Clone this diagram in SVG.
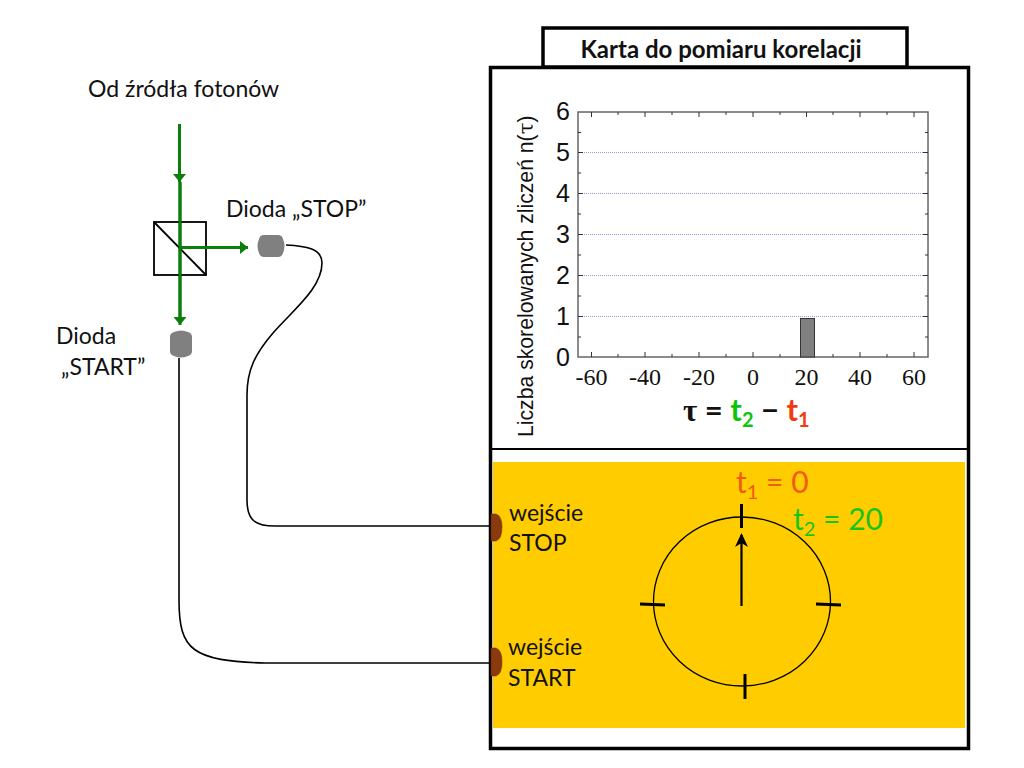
<svg xmlns="http://www.w3.org/2000/svg" width="1024" height="768" viewBox="0 0 1024 768">
<style>
.c{font-family:Lato,"Noto Sans",sans-serif;font-size:23px;fill:#111}
.h{font-family:"Liberation Sans",Arial,sans-serif;fill:#111}
.s{font-family:"Liberation Serif",serif;font-size:24px;fill:#111;text-anchor:middle}
.y{font-size:25px;text-anchor:end}
.g{fill:none;stroke:#0b7f0b;stroke-width:3}
.w{fill:none;stroke:#000;stroke-width:1.600}
.t{stroke:#000;stroke-width:3;fill:none}
.gl{stroke:#9a9ad8;stroke-width:1;stroke-dasharray:1 1}
.ax{stroke:#666;stroke-width:1.5;fill:none}
.port{fill:#8b3a0e;stroke:#6b2a08;stroke-width:.5}
.diode{fill:#808080}
.big{font-size:30px}
.sub{font-size:20px}
</style>
<defs>
<marker id="ag" markerWidth="10" markerHeight="14" refX="8" refY="6.500" orient="auto" markerUnits="userSpaceOnUse"><path d="M0 0L8 6.500L0 13Z" fill="#0b7f0b"/></marker>
</defs>
<g id="card">
<rect x="490.500" y="67.500" width="478" height="681" fill="#fff" stroke="#000" stroke-width="3.500"/>
<rect x="493" y="462" width="472" height="266" fill="#ffcc00"/>
<line x1="492" y1="449" x2="970" y2="449" stroke="#000" stroke-width="2"/>
</g>
<g id="card-title">
<rect x="543" y="28" width="364" height="39" fill="#fff" stroke="#000" stroke-width="3.500"/>
<text x="721" y="58" class="c" font-weight="700" text-anchor="middle" style="font-size:24px">Karta do pomiaru korelacji</text>
</g>
<g id="connectors">
<path class="g" d="M179.500 124V182" marker-end="url(#ag)"/>
<path class="g" d="M180 182V325" marker-end="url(#ag)"/>
<path class="g" d="M181 247.500H248" marker-end="url(#ag)"/>
<path class="w" d="M286 245C305 246 322 248 322 263C322 288 293 310 273 333C255 354 247 370 247 395L247 500C247 520 255 526 275 526L490 526"/>
<path class="w" d="M179 358V600C179 650 192 661 265 663L490 663"/>
</g>
<g id="label-source"><text x="88" y="97" class="c">Od źródła fotonów</text></g>
<g id="splitter">
<rect x="154" y="222" width="52" height="53" fill="none" stroke="#000" stroke-width="1.800"/>
<line x1="154" y1="222" x2="206" y2="275" stroke="#000" stroke-width="1.800"/>
<path d="M180 182V320M181 247.500H242" class="g"/>
</g>
<g id="diode-stop">
<path class="diode" d="M264 235H278Q282 235 283 239Q286 246 283 253Q282 257 278 257H264Q260 257 259 253Q256 246 259 239Q260 235 264 235Z"/>
<text x="226" y="217" class="c">Dioda „STOP”</text>
</g>
<g id="diode-start">
<path class="diode" d="M170 337Q170 333 174 332Q181 329 188 332Q192 333 192 337V351Q192 355 188 356Q181 359 174 356Q170 355 170 351Z"/>
<text x="56" y="344" class="c">Dioda</text>
<text x="61" y="375" class="c">„START”</text>
</g>
<g id="chart">
<g class="gl"><line x1="578" y1="152.500" x2="928" y2="152.500"/><line x1="578" y1="193.500" x2="928" y2="193.500"/><line x1="578" y1="234.500" x2="928" y2="234.500"/><line x1="578" y1="275.500" x2="928" y2="275.500"/><line x1="578" y1="316.500" x2="928" y2="316.500"/></g>
<rect x="578" y="112" width="350" height="245" class="ax"/>
<path stroke="#333" stroke-width="1" fill="none" d="M578 152.500h5M578 193.500h5M578 234.500h5M578 275.500h5M578 316.500h5M928 152.500h-5M928 193.500h-5M928 234.500h-5M928 275.500h-5M928 316.500h-5M578 132.500h3M578 173h3M578 214h3M578 255h3M578 296h3M578 337h3M928 132.500h-3M928 173h-3M928 214h-3M928 255h-3M928 296h-3M928 337h-3M591.500 357v-5M645 357v-5M699 357v-5M753 357v-5M806.500 357v-5M860 357v-5M914 357v-5M591.500 112v5M645 112v5M699 112v5M753 112v5M806.500 112v5M860 112v5M914 112v5M618 357v-3M672 357v-3M726 357v-3M780 357v-3M833 357v-3M887 357v-3M618 112v3M672 112v3M726 112v3M780 112v3M833 112v3M887 112v3"/>
<rect x="800.500" y="318.500" width="14" height="38.500" fill="#808080" stroke="#333" stroke-width="1"/>
<g class="h y"><text x="570" y="120">6</text><text x="570" y="161">5</text><text x="570" y="202">4</text><text x="570" y="243">3</text><text x="570" y="284">2</text><text x="570" y="325">1</text><text x="570" y="366">0</text></g>
<g class="s"><text x="591.500" y="385">-60</text><text x="645" y="385">-40</text><text x="699" y="385">-20</text><text x="753" y="385">0</text><text x="806.500" y="385">20</text><text x="860" y="385">40</text><text x="914" y="385">60</text></g>
<text transform="translate(533 437) rotate(-90)" class="h" font-size="21.200">Liczba skorelowanych zliczeń n(<tspan font-family="'DejaVu Serif',serif">τ</tspan>)</text>
<text x="683" y="421" font-weight="700" class="c big" style="font-size:31px"><tspan font-family="'Liberation Serif',serif">τ</tspan> = <tspan fill="#0cc40c">t</tspan><tspan fill="#0cc40c" class="sub" dy="6">2</tspan><tspan dy="-6"> − </tspan><tspan fill="#f03a10">t</tspan><tspan fill="#f03a10" class="sub" dy="6">1</tspan></text>
</g>
<g id="input-stop">
<path class="port" d="M491 514H496Q502 516 502 527Q502 539 496 541H491Z"/>
<text x="509" y="521" class="c">wejście</text>
<text x="509" y="551" class="c">STOP</text>
</g>
<g id="input-start">
<path class="port" d="M491 648H496Q502 650 502 662Q502 674 496 676H491Z"/>
<text x="508" y="655" class="c">wejście</text>
<text x="508" y="686" class="c">START</text>
</g>
<g id="clock">
<ellipse cx="742" cy="601.500" rx="88.500" ry="84.500" fill="none" stroke="#000" stroke-width="1.300"/>
<path class="t" d="M741.500 504V528M640 604L665 605M816 604L841 605M745 674V699"/>
<path d="M741.500 606V535" stroke="#000" stroke-width="2.200" fill="none"/>
<path d="M741.500 533L748 547L741.500 543L735 547Z" fill="#000"/>
<text x="736" y="493" class="c big" style="fill:#f25a12">t<tspan class="sub" dy="6">1</tspan><tspan dy="-6"> = 0</tspan></text>
<text x="793" y="530" class="c big" style="fill:#18c418">t<tspan class="sub" dy="6">2</tspan><tspan dy="-6"> = 20</tspan></text>
</g>
</svg>
